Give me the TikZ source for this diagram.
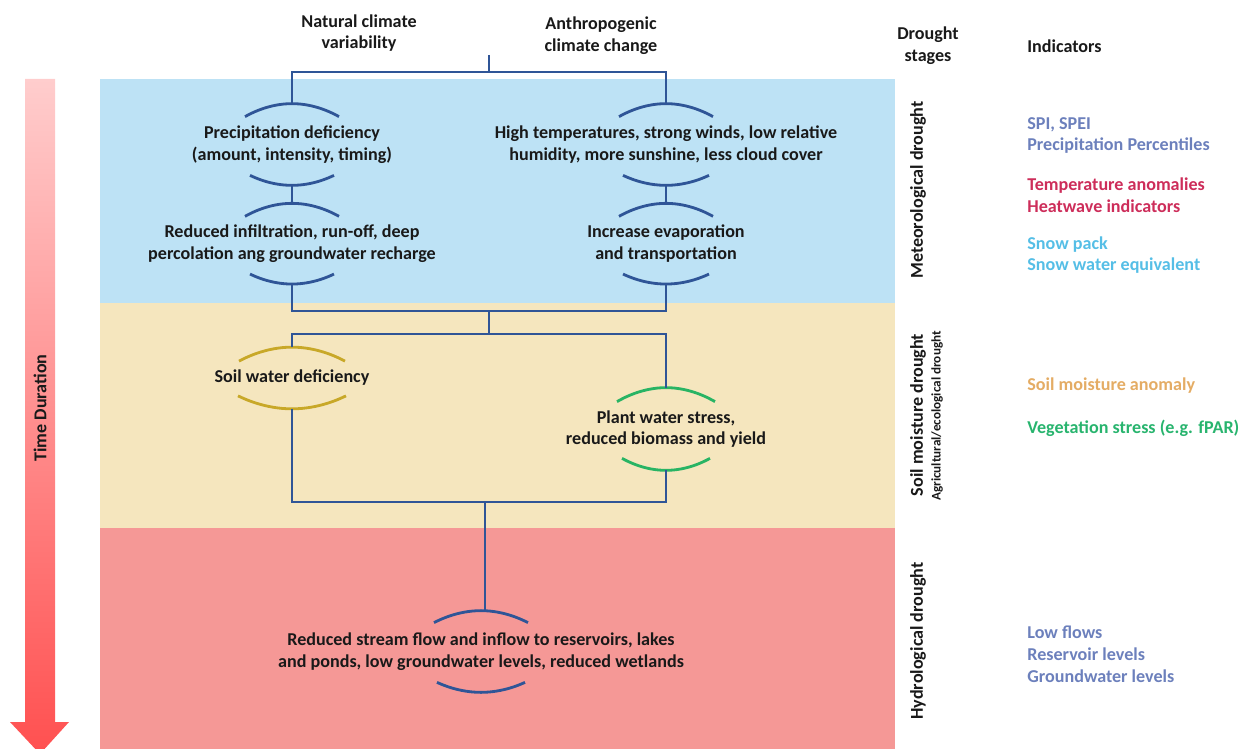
\documentclass[tikz,border=0pt]{standalone}
\usepackage{fontspec}
\setmainfont{Carlito}
\usetikzlibrary{positioning,calc}
\definecolor{cMet}{RGB}{189,226,245}
\definecolor{cSoil}{RGB}{245,230,190}
\definecolor{cHyd}{RGB}{245,152,150}
\definecolor{cLink}{RGB}{47,85,151}
\definecolor{cGold}{RGB}{200,168,40}
\definecolor{cGreen}{RGB}{40,180,100}
\definecolor{cPrec}{RGB}{108,128,188}
\definecolor{cTemp}{RGB}{205,45,90}
\definecolor{cSnow}{RGB}{85,190,230}
\definecolor{cSm}{RGB}{228,172,100}
\definecolor{cVeg}{RGB}{40,180,110}
\definecolor{cTxt}{RGB}{25,25,25}
\definecolor{cArrTop}{RGB}{255,205,205}
\definecolor{cArrBot}{RGB}{255,80,80}

% lens arcs above and below a stage node: node, colour, top half width, top drop, bottom half width, bottom rise
\newcommand{\lens}[6]{%
  \draw[lens, #2] ($(#1.north)+(-#3,#4)$) parabola bend (#1.north) ($(#1.north)+(#3,#4)$);
  \draw[lens, #2] ($(#1.south)+(-#5,-#6)$) parabola bend (#1.south) ($(#1.south)+(#5,-#6)$);}

\begin{document}
\begin{tikzpicture}[
  x=0.2mm, y=-0.2mm,
  font=\bfseries\fontsize{10.3}{12.4}\selectfont,
  stage/.style = {align=center, inner sep=0pt, text=cTxt},
  head/.style  = {align=center, inner sep=0pt, text=cTxt},
  phase/.style = {rotate=90, inner sep=0pt, text=cTxt},
  ind/.style   = {anchor=west, align=left, inner sep=0pt},
  link/.style  = {draw=cLink, line width=1.2pt},
  lens/.style  = {line width=1.6pt}
]
\useasboundingbox (0,0) rectangle (1250,749);

% ------------------------------------------------------------- the bands --
\fill[cMet]  (100,79)  rectangle (895,303);
\fill[cSoil] (100,303) rectangle (895,528);
\fill[cHyd]  (100,528) rectangle (895,749);

\shade[top color=cArrTop, bottom color=cArrBot]
  (25,79) -- (55,79) -- (55,722) -- (69,722) -- (40,754) -- (10,722) -- (25,722) -- cycle;
\node[phase] (time) at (40,408) {Time Duration};

% ------------------------------------------------------------ the stages --
\node[head] (natural) at (359,33)   {Natural climate\\variability};
\node[head] (anthro)  at (601,35.5) {Anthropogenic\\climate change};

\node[stage, minimum height=16.2mm] (precip) at (292,144.5) {Precipitation deficiency\\(amount, intensity, timing)};
\node[stage, minimum height=16.2mm] (heat)   at (666,144.5) {High temperatures, strong winds, low relative\\humidity, more sunshine, less cloud cover};
\node[stage, minimum height=16mm, below=3.6mm of precip] (infil) {Reduced infiltration, run-off, deep\\percolation ang groundwater recharge};
\node[stage, minimum height=16mm, below=3.6mm of heat]   (evap)  {Increase evaporation\\and transportation};
\node[stage, minimum height=12.2mm] (soil)  at (292,378) {Soil water deficiency};
\node[stage, minimum height=16.4mm] (plant) at (666,429) {Plant water stress,\\reduced biomass and yield};
\node[stage, minimum height=16.2mm] (hydro) at (481,651.5) {Reduced stream flow and inflow to reservoirs, lakes\\and ponds, low groundwater levels, reduced wetlands};

\lens{precip}{cLink}{47}{13}{42}{10}
\lens{heat}{cLink}{47}{13}{43}{10}
\lens{infil}{cLink}{47}{13}{42}{10}
\lens{evap}{cLink}{47}{13}{43}{10}
\lens{soil}{cGold}{53}{14}{54}{13}
\lens{plant}{cGreen}{49}{14}{44}{12}
\lens{hydro}{cLink}{47}{12}{44}{10}

% ------------------------------------------------------------ connectors --
\coordinate (drv)   at (489,55);
\coordinate (fork)  at (489,72);
\coordinate (join)  at (489,311);
\coordinate (fork2) at (489,334);
\coordinate (join2) at (485,502);

\draw[link] (drv) -- (fork);
\draw[link] (precip.north) |- (fork) -| (heat.north);
\draw[link] (precip.south) -- (infil.north);
\draw[link] (heat.south) -- (evap.north);
\draw[link] (infil.south) |- (join) -| (evap.south);
\draw[link] (join) -- (fork2);
\draw[link] (soil.north) |- (fork2) -| (plant.north);
\draw[link] (soil.south) |- (join2) -| (plant.south);
\draw[link] (join2) -- (join2 |- hydro.north);

% ------------------------------------------------- stages and indicators --
\node[head] (stages) at (928,46) {Drought\\stages};
\node[head, anchor=west] (indic) at (1027,46) {Indicators};

\node[phase] (met) at (918,190) {Meteorological drought};
\node[phase] (smd) at (918,415) {Soil moisture drought};
\node[phase, font=\bfseries\fontsize{7.5}{9}\selectfont] (agri) at (937,416) {Agricultural/ecological drought};
\node[phase] (hyd) at (918,641) {Hydrological drought};

\node[ind, text=cPrec] (iprec) at (1027,135.5) {SPI, SPEI\\Precipitation Percentiles};
\node[ind, text=cTemp] (itemp) at (1027,195)   {Temperature anomalies\\Heatwave indicators};
\node[ind, text=cSnow] (isnow) at (1027,255)   {Snow pack\\Snow water equivalent};
\node[ind, text=cSm]   (isoil) at (1027,386)   {Soil moisture anomaly};
\node[ind, text=cVeg]  (iveg)  at (1027,428)   {Vegetation stress (e.g. fPAR)};
\node[ind, text=cPrec] (iflow) at (1027,654)   {Low flows\\Reservoir levels\\Groundwater levels};

\end{tikzpicture}
\end{document}
